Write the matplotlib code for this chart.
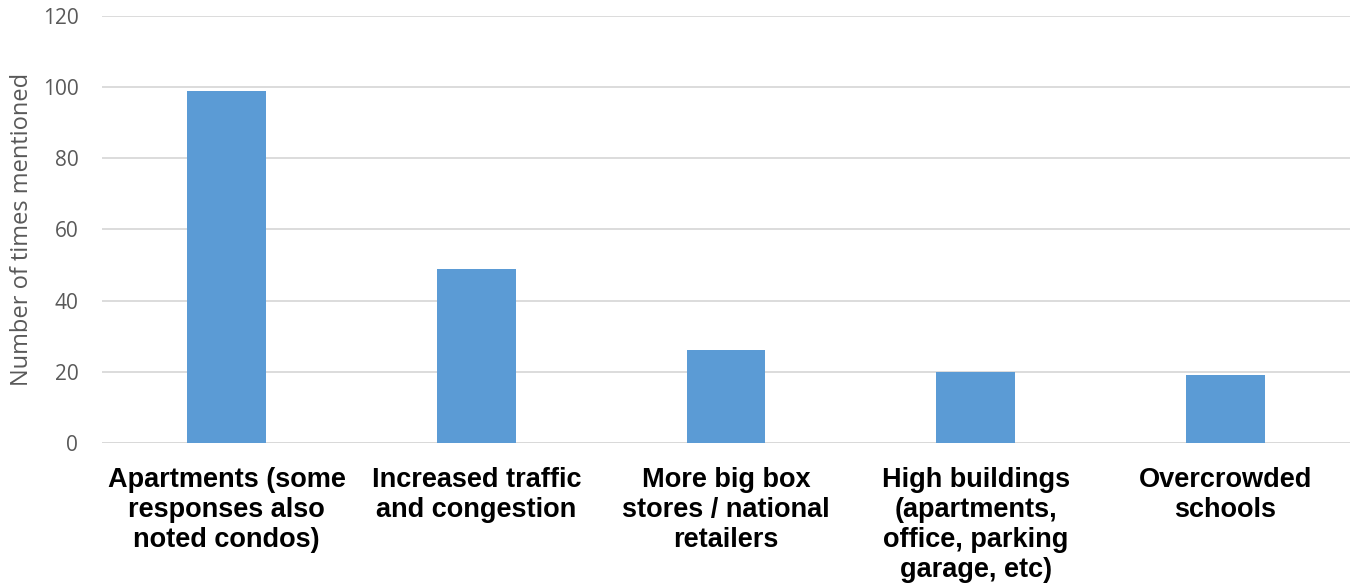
import numpy as np
import matplotlib.pyplot as plt

categories = [
    "Apartments (some\nresponses also\nnoted condos)",
    "Increased traffic\nand congestion",
    "More big box\nstores / national\nretailers",
    "High buildings\n(apartments,\noffice, parking\ngarage, etc)",
    "Overcrowded\nschools",
]
counts = [99, 49, 26, 20, 19]
yticks = [0, 20, 40, 60, 80, 100, 120]

fig = plt.figure(figsize=(13.52, 5.88), dpi=100)
ax = fig.add_axes([0.0754, 0.2466, 0.9231, 0.7262])

x = np.arange(len(categories))
ax.bar(x, counts, width=0.316, color='#5B9BD5', zorder=3)

ax.set_xlim(-0.5, len(categories) - 0.5)
ax.set_ylim(0, 120)
ax.set_yticks(yticks)
ax.yaxis.grid(True, color='#D9D9D9', linewidth=1.3, zorder=0)
for s in ax.spines.values():
    s.set_visible(False)
ax.axhline(0, color='#D9D9D9', linewidth=1.3, zorder=1)

ax.tick_params(axis='y', length=0, pad=17, labelsize=15, labelcolor='#595959')
for lbl in ax.get_yticklabels():
    lbl.set_family('Open Sans')

ax.set_xticks(x)
ax.set_xticklabels(categories, fontsize=19.5, fontweight='bold',
                   family='Liberation Sans', linespacing=1.2)
ax.tick_params(axis='x', length=0, pad=17)

ax.set_ylabel("Number of times mentioned", fontsize=17, color='#595959',
              family='Open Sans', labelpad=6)

fig.savefig("out.png", dpi=100)
